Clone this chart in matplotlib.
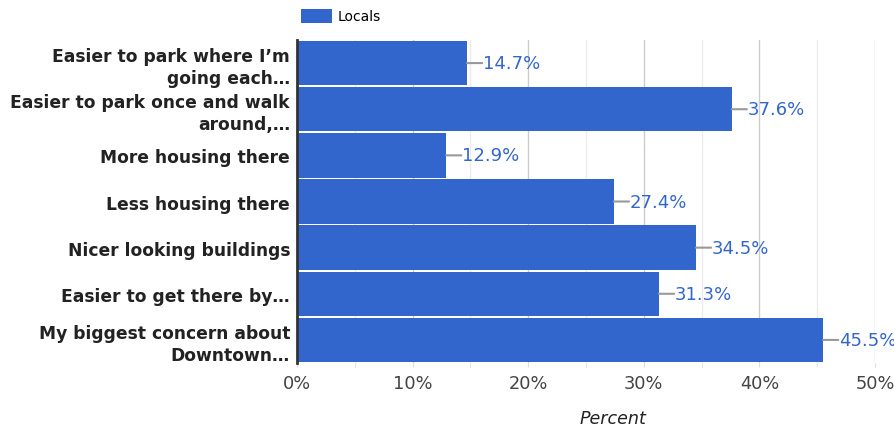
import matplotlib.pyplot as plt
from matplotlib.ticker import MultipleLocator, FuncFormatter

plt.rcParams["font.family"] = ["DejaVu Sans"]

# Datos del grafico
categorias = [
    "Easier to park where I’m\ngoing each…",
    "Easier to park once and walk\naround,…",
    "More housing there",
    "Less housing there",
    "Nicer looking buildings",
    "Easier to get there by…",
    "My biggest concern about\nDowntown…",
]
locals_pct = [14.7, 37.6, 12.9, 27.4, 34.5, 31.3, 45.5]

azul = "#3366cc"

fig = plt.figure(figsize=(8.95, 4.31), dpi=100)
ax = fig.add_axes([297 / 895, 1 - 364 / 431, 578 / 895, 323 / 431])

pos = list(range(len(categorias)))
ax.barh(pos, locals_pct, height=0.96, color=azul, label="Locals", zorder=2)
ax.set_ylim(len(categorias) - 0.5, -0.5)
ax.set_xlim(0, 50)

# Etiquetas de valor con linea guia
for y, v in zip(pos, locals_pct):
    ax.annotate("", xy=(v, y), xytext=(11, 0), textcoords="offset points",
                arrowprops=dict(arrowstyle="-", color="#999999", lw=1.5,
                                shrinkA=0, shrinkB=0), annotation_clip=False)
    ax.annotate(f"{v}%", xy=(v, y), xytext=(11.3, 0), textcoords="offset points",
                va="center", ha="left", color=azul, fontsize=13,
                annotation_clip=False)

ax.set_yticks(pos)
ax.set_yticklabels(categorias, fontsize=12.3, fontweight="bold", color="#222222",
                   linespacing=1.3)
ax.tick_params(axis="y", length=0, pad=5)

ax.xaxis.set_major_locator(MultipleLocator(10))
ax.xaxis.set_minor_locator(MultipleLocator(5))
ax.xaxis.set_major_formatter(FuncFormatter(lambda x, p: f"{x:.0f}%"))
ax.tick_params(axis="x", which="both", length=3, color="#dddddd",
               labelsize=12.8, labelcolor="#444444", pad=5)
ax.grid(axis="x", which="major", color="#cccccc", lw=1, zorder=0)
ax.grid(axis="x", which="minor", color="#ebebeb", lw=1, zorder=0)

for s in ["top", "right", "bottom"]:
    ax.spines[s].set_visible(False)
ax.spines["left"].set_color("#333333")
ax.spines["left"].set_linewidth(2)
ax.spines["left"].set_zorder(3)

ax.set_xlabel("Percent", fontsize=12.6, style="italic", color="#222222")
ax.xaxis.set_label_coords((613 - 297) / 578, -0.142)

ax.legend(loc="lower left", bbox_to_anchor=(-0.005, 1.03), frameon=False,
          fontsize=10, handlelength=2.2, handleheight=1.2, handletextpad=0.4,
          borderaxespad=0.3, borderpad=0.2)

fig.savefig("out.png", dpi=100)
